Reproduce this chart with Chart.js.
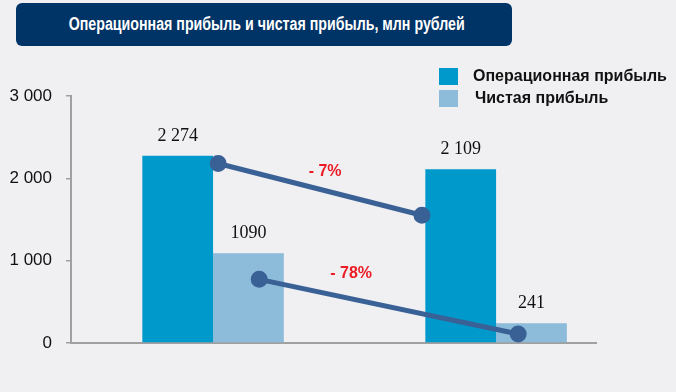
<!DOCTYPE html>
<html lang="ru">
  <head>
    <meta charset="UTF-8" />
    <title>Операционная прибыль и чистая прибыль</title>
    <script src="https://cdn.jsdelivr.net/npm/chart.js@4.4.1/dist/chart.umd.min.js"></script>
    <style>
      body { margin: 0; background: #f0f0f3; }
      #wrap { position: relative; width: 676px; height: 392px; }
      #banner {
        position: absolute; left: 16px; top: 3px; width: 496px; height: 43px;
        background: #003366; border-radius: 6px; color: #fff;
        text-align: center; line-height: 43px; white-space: nowrap;
      }
      #banner span {
        display: inline-block;
        font: bold 18px 'Liberation Sans', sans-serif;
        transform: scaleX(0.79);
        transform-origin: 50% 50%;
      }
      canvas { position: absolute; left: 0; top: 0; }
    </style>
  </head>
  <body>
    <div id="wrap">
      <canvas id="chart" width="676" height="392"></canvas>
      <div id="banner"><span>Операционная прибыль и чистая прибыль, млн рублей</span></div>
    </div>

    <script>
      // two periods, no labels shown on the axis
      const periods = [0, 1]
      const seriesNames = ['Операционная прибыль', 'Чистая прибыль']
      const operating = [2274, 2109]
      const net = [1090, 241]
      const operatingLabels = ['2 274', '2 109']
      const netLabels = ['1090', '241']

      // trend lines (x in period units)
      const opTrendX = [0.018, 0.738]
      const opTrendY = [2180, 1552]
      const netTrendX = [0.163, 1.078]
      const netTrendY = [773, 109]

      const changeTexts = ['- 7%', '- 78%']
      const changeX = [0.396, 0.488]
      const changeY = [2086, 847]

      const opColor = '#0099cc'
      const netColor = '#8dbbda'
      const lineColor = '#3a6195'
      const axisColor = '#a0a0a0'

      const toPoints = (xs, ys) => xs.map((x, i) => ({ x: x, y: ys[i] }))

      const valueLabels = {
        id: 'valueLabels',
        afterDatasetsDraw(chart) {
          const ctx = chart.ctx
          ctx.save()
          ctx.font = '18px "Liberation Serif", serif'
          ctx.fillStyle = '#111'
          ctx.textAlign = 'center'
          ctx.textBaseline = 'middle'
          chart.data.datasets.forEach((ds, i) => {
            if (!ds.valueText) return
            chart.getDatasetMeta(i).data.forEach((bar, j) => {
              ctx.fillText(ds.valueText[j], bar.x, bar.y - 20)
            })
          })
          // percentage changes
          const xs = chart.scales.x
          const ys = chart.scales.y
          ctx.font = 'bold 16px "Liberation Sans", sans-serif'
          ctx.fillStyle = '#ec1c24'
          changeTexts.forEach((t, i) => {
            ctx.fillText(t, xs.getPixelForValue(changeX[i]), ys.getPixelForValue(changeY[i]))
          })
          ctx.restore()
        },
      }

      const boxLegend = {
        id: 'boxLegend',
        afterDraw(chart) {
          const ctx = chart.ctx
          ctx.save()
          ctx.font = 'bold 16px "Liberation Sans", sans-serif'
          ctx.textBaseline = 'middle'
          let row = 0
          chart.data.datasets.forEach((ds) => {
            if (ds.type !== 'bar') return
            const y = 77 + row * 22
            ctx.fillStyle = ds.backgroundColor
            ctx.fillRect(439, y - 9, 19, 17)
            ctx.fillStyle = '#111'
            ctx.fillText(ds.label, 473 + row * 2, y)
            row++
          })
          ctx.restore()
        },
      }

      new Chart(document.getElementById('chart'), {
        data: {
          datasets: [
            {
              type: 'line',
              data: toPoints(opTrendX, opTrendY),
              borderColor: lineColor,
              backgroundColor: lineColor,
              borderWidth: 5,
              pointRadius: 6,
              pointBackgroundColor: lineColor,
              order: 0,
            },
            {
              type: 'line',
              data: toPoints(netTrendX, netTrendY),
              borderColor: lineColor,
              backgroundColor: lineColor,
              borderWidth: 5,
              pointRadius: 6,
              pointBackgroundColor: lineColor,
              order: 0,
            },
            {
              type: 'bar',
              label: seriesNames[0],
              data: toPoints(periods, operating),
              backgroundColor: opColor,
              valueText: operatingLabels,
              categoryPercentage: 0.5,
              barPercentage: 1,
              order: 1,
            },
            {
              type: 'bar',
              label: seriesNames[1],
              data: toPoints(periods, net),
              backgroundColor: netColor,
              valueText: netLabels,
              categoryPercentage: 0.5,
              barPercentage: 1,
              order: 1,
            },
          ],
        },
        options: {
          responsive: false,
          animation: false,
          layout: {
            padding: { left: 0, right: 80, top: 96, bottom: 49 },
          },
          scales: {
            x: {
              type: 'linear',
              min: -0.502,
              max: 1.353,
              offset: false,
              afterBuildTicks: (scale) => {
                scale.ticks = periods.map((v) => ({ value: v }))
              },
              afterFit: (scale) => { scale.height = 0 },
              ticks: { display: false },
              grid: { display: false, offset: false },
              border: { display: true, color: axisColor, width: 2 },
            },
            y: {
              min: 0,
              max: 3000,
              afterFit: (scale) => { scale.width = 71 },
              ticks: {
                stepSize: 1000,
                padding: 14,
                color: '#111',
                font: { family: 'Liberation Sans', size: 17 },
                callback: (v) => String(v).replace(/\B(?=(\d{3})+(?!\d))/g, ' '),
              },
              grid: {
                display: true,
                drawOnChartArea: false,
                drawTicks: true,
                tickLength: 5,
                color: axisColor,
                lineWidth: 1.5,
              },
              border: { display: true, color: axisColor, width: 2 },
            },
          },
          plugins: {
            legend: { display: false },
            tooltip: { enabled: false },
          },
        },
        plugins: [valueLabels, boxLegend],
      })
    </script>
  </body>
</html>
